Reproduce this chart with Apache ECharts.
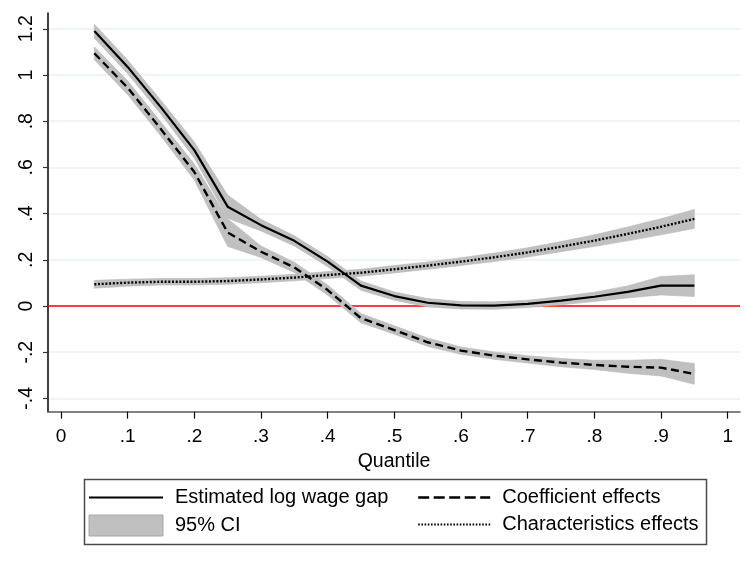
<!DOCTYPE html>
<html>
<head>
<meta charset="utf-8">
<script src="https://cdn.jsdelivr.net/npm/echarts@6/dist/echarts.min.js"></script>
<style>html,body{margin:0;padding:0;background:#fff}#c{width:749px;height:566px}</style>
</head>
<body>
<div id="c"></div>
<script>
// ---- data ----
const quantiles = [0.05,0.10,0.15,0.20,0.25,0.30,0.35,0.40,0.45,0.50,0.55,0.60,0.65,0.70,0.75,0.80,0.85,0.90,0.95];
const gap   = [1.19,1.035,0.86,0.675,0.43,0.35,0.282,0.192,0.088,0.043,0.014,0.003,0.002,0.009,0.023,0.040,0.061,0.088,0.088];
const gapLo = [1.16,1.005,0.83,0.64,0.38,0.325,0.26,0.17,0.068,0.025,-0.004,-0.013,-0.014,-0.007,0.005,0.02,0.035,0.048,0.041];
const gapHi = [1.22,1.065,0.89,0.71,0.48,0.375,0.304,0.214,0.108,0.061,0.032,0.019,0.018,0.025,0.041,0.06,0.087,0.128,0.135];
const coef   = [1.094,0.945,0.765,0.58,0.318,0.235,0.167,0.069,-0.053,-0.104,-0.157,-0.193,-0.215,-0.231,-0.245,-0.255,-0.263,-0.267,-0.294];
const coefLo = [1.066,0.915,0.735,0.545,0.258,0.21,0.145,0.047,-0.073,-0.122,-0.175,-0.209,-0.231,-0.247,-0.263,-0.275,-0.291,-0.303,-0.339];
const coefHi = [1.122,0.975,0.795,0.615,0.378,0.26,0.189,0.091,-0.033,-0.086,-0.139,-0.177,-0.199,-0.215,-0.227,-0.235,-0.235,-0.231,-0.249];
const chars   = [0.094,0.101,0.105,0.105,0.108,0.115,0.123,0.134,0.144,0.159,0.175,0.192,0.211,0.232,0.257,0.283,0.312,0.343,0.377];
const charsLo = [0.077,0.086,0.091,0.091,0.094,0.101,0.109,0.119,0.129,0.143,0.159,0.175,0.193,0.212,0.235,0.258,0.282,0.308,0.336];
const charsHi = [0.111,0.116,0.119,0.119,0.122,0.129,0.137,0.149,0.159,0.175,0.191,0.209,0.229,0.252,0.279,0.308,0.342,0.378,0.418];

const xTickValues = [0,0.1,0.2,0.3,0.4,0.5,0.6,0.7,0.8,0.9,1];
const xTickLabels = ['0','.1','.2','.3','.4','.5','.6','.7','.8','.9','1'];
const yTickValues = [-0.4,-0.2,0,0.2,0.4,0.6,0.8,1,1.2];
const yTickLabels = ['-.4','-.2','0','.2','.4','.6','.8','1','1.2'];

const names = {
  gap: 'Estimated log wage gap',
  ci: '95% CI',
  coef: 'Coefficient effects',
  chars: 'Characteristics effects'
};

// ---- build ----
const FONT = 'Liberation Sans, Arial, sans-serif';
const BAND = '#c0c0c0';
function pairs(ys){ return quantiles.map((q,i)=>[q, ys[i]]); }
function labelFor(values, labels){
  return function(v){
    for (let i=0;i<values.length;i++){ if (Math.abs(values[i]-v) < 1e-9) return labels[i]; }
    return '';
  };
}
function bandSeries(lo, hi){
  return {
    type:'custom', name:names.ci, silent:true, z:2,
    data: quantiles.map((q,i)=>[q, lo[i], hi[i]]),
    encode:{ x:0, y:[1,2] },
    itemStyle:{ color:BAND },
    renderItem:function(params, api){
      if (params.dataIndex !== 0) return null;
      const pts = [];
      for (let i=0;i<quantiles.length;i++) pts.push(api.coord([quantiles[i], hi[i]]));
      for (let i=quantiles.length-1;i>=0;i--) pts.push(api.coord([quantiles[i], lo[i]]));
      return { type:'polygon', shape:{ points:pts },
        style:{ fill:BAND, stroke:'#b8b8b8', lineWidth:0.6 } };
    }
  };
}

const series = [
  bandSeries(gapLo, gapHi),
  bandSeries(coefLo, coefHi),
  bandSeries(charsLo, charsHi),
  { type:'line', name:'zeroRef', data:[], symbol:'none', z:1,
    markLine:{ silent:true, symbol:'none', z:1, label:{show:false},
      lineStyle:{color:'#ff0000', width:1.6, type:'solid'},
      data:[{yAxis:0}] } },
  { type:'line', name:names.gap, data:pairs(gap), symbol:'none', z:4,
    lineStyle:{color:'#000', width:2.2, type:'solid'}, itemStyle:{color:'#000'} },
  { type:'line', name:names.coef, data:pairs(coef), symbol:'none', z:4,
    lineStyle:{color:'#000', width:2.4, type:[8,4.5], cap:'butt'}, itemStyle:{color:'#000'} },
  { type:'line', name:names.chars, data:pairs(chars), symbol:'none', z:4,
    lineStyle:{color:'#000', width:2.4, type:[2,1.7], cap:'butt'}, itemStyle:{color:'#000'} }
];

const legendText = { color:'#000', fontSize:20, fontFamily:FONT, padding:[0,0,0,7] };
const hiddenSymbol = { color:'rgba(0,0,0,0)', borderColor:'rgba(0,0,0,0)', borderWidth:0 };

const option = {
  animation:false,
  backgroundColor:'#fff',
  grid:{ left:48, top:13, right:9, bottom:154.3, containLabel:false },
  xAxis:{
    type:'value', min:-0.0195, max:1.0185,
    name:'Quantile', nameLocation:'middle', nameGap:31,
    nameTextStyle:{ color:'#000', fontSize:19.5, fontFamily:FONT },
    axisLine:{ show:true, onZero:false, lineStyle:{ color:'#5a5a5a', width:1.6 } },
    axisTick:{ show:true, customValues:xTickValues, length:7, lineStyle:{ color:'#000', width:1.2 } },
    axisLabel:{ customValues:xTickValues, formatter:labelFor(xTickValues,xTickLabels),
      color:'#000', fontSize:19, fontFamily:FONT, margin:16 },
    splitLine:{ show:false }
  },
  yAxis:{
    type:'value', min:-0.4576, max:1.2684,
    axisLine:{ show:true, onZero:false, lineStyle:{ color:'#000', width:1.5 } },
    axisTick:{ show:true, customValues:yTickValues, length:5, lineStyle:{ color:'#333', width:1.2 } },
    axisLabel:{ customValues:yTickValues, formatter:labelFor(yTickValues,yTickLabels),
      rotate:90, color:'#000', fontSize:19.5, fontFamily:FONT, margin:11 },
    splitLine:{ show:true, lineStyle:{ color:'#eaf0f4', width:1.6 } }
  },
  legend:[
    { orient:'vertical', left:83, top:482.5, itemWidth:74, itemHeight:21, itemGap:7,
      selectedMode:false, textStyle:legendText,
      data:[ { name:names.gap, itemStyle:hiddenSymbol },
        { name:names.ci, icon:'rect', itemStyle:{ color:BAND, borderColor:'#a8a8a8', borderWidth:1 } } ] },
    { orient:'vertical', left:412, top:482.5, itemWidth:72, itemHeight:21, itemGap:7,
      selectedMode:false, textStyle:legendText,
      data:[ { name:names.coef, itemStyle:hiddenSymbol, lineStyle:{ type:[11,4.5], width:2.4 } },
             { name:names.chars, itemStyle:hiddenSymbol, lineStyle:{ type:[1.6,1.6], width:1.8 } } ] }
  ],
  graphic:[
    { type:'rect', left:82, top:477, z:0, silent:true,
      shape:{ width:622, height:65 },
      style:{ fill:'none', stroke:'#4a4a4a', lineWidth:1.5 } }
  ],
  series:series
};

const chart = echarts.init(document.getElementById('c'), null, { renderer:'canvas' });
chart.setOption(option);
</script>
</body>
</html>
